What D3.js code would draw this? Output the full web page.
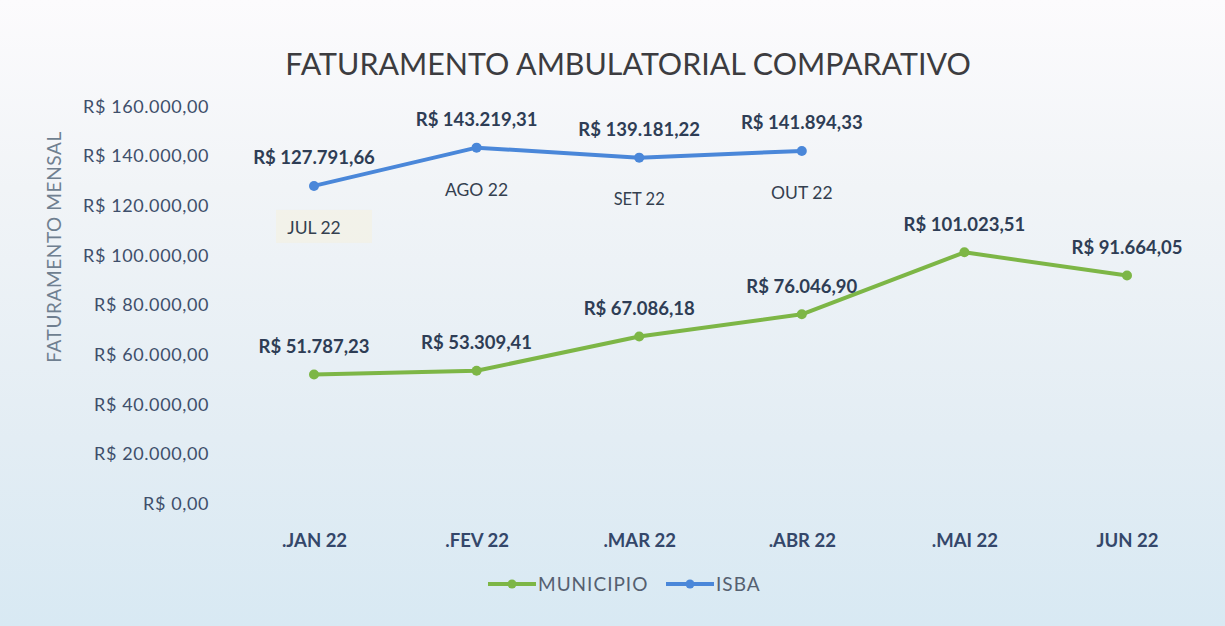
<!DOCTYPE html>
<html>
<head>
<meta charset="utf-8">
<script src="https://cdn.jsdelivr.net/npm/d3@7"></script>
<style>
  html, body { margin: 0; padding: 0; background: #ffffff; }
  svg { display: block; }
</style>
</head>
<body>
<svg id="chart" width="1225" height="626"></svg>
<script>
// ---- data ----
const categories = [".JAN 22", ".FEV 22", ".MAR 22", ".ABR 22", ".MAI 22", "JUN 22"];
const municipioValues = [51787.23, 53309.41, 67086.18, 76046.90, 101023.51, 91664.05];
const isbaMonths = ["JUL 22", "AGO 22", "SET 22", "OUT 22"];
const isbaValues = [127791.66, 143219.31, 139181.22, 141894.33];
const yTicks = [0, 20000, 40000, 60000, 80000, 100000, 120000, 140000, 160000];
const seriesNames = ["MUNICIPIO", "ISBA"];
const titleText = "FATURAMENTO AMBULATORIAL COMPARATIVO";
const yTitleText = "FATURAMENTO MENSAL";

// ---- setup ----
const W = 1225, H = 626;
const svg = d3.select("#chart");
const FONT = "Lato, 'Open Sans', sans-serif";
const colors = { MUNICIPIO: "#7db646", ISBA: "#4a87d9" };

const fmt = v => "R$ " + new Intl.NumberFormat("pt-BR", { minimumFractionDigits: 2, maximumFractionDigits: 2 }).format(v);

// background gradient
const defs = svg.append("defs");
const grad = defs.append("linearGradient").attr("id", "bg").attr("x1", 0).attr("y1", 0).attr("x2", 0).attr("y2", 1);
grad.append("stop").attr("offset", "0%").attr("stop-color", "#fcfbfd");
grad.append("stop").attr("offset", "30%").attr("stop-color", "#f1f4f7");
grad.append("stop").attr("offset", "70%").attr("stop-color", "#e3edf4");
grad.append("stop").attr("offset", "100%").attr("stop-color", "#d8e9f3");
svg.append("rect").attr("width", W).attr("height", H).attr("fill", "url(#bg)");

// scales
const x = d3.scalePoint().domain(d3.range(categories.length)).range([314, 1127]);
const y = d3.scaleLinear().domain([0, 160000]).range([503, 106]);

// title
svg.append("text")
  .attr("x", 628).attr("y", 75)
  .attr("text-anchor", "middle")
  .attr("font-family", FONT).attr("font-size", 30.4)
  .attr("fill", "#3c3c40")
  .text(titleText);

// y title
svg.append("text")
  .attr("transform", "translate(61,247) rotate(-90)")
  .attr("text-anchor", "middle")
  .attr("font-family", FONT).attr("font-size", 19)
  .attr("letter-spacing", 0.6)
  .attr("fill", "#6f7f90")
  .text(yTitleText);

// y axis
const yAxis = d3.axisLeft(y).tickValues(yTicks).tickSize(0).tickPadding(0).tickFormat(fmt);
const yg = svg.append("g").attr("transform", "translate(209,0)").call(yAxis);
yg.select(".domain").remove();
yg.selectAll("text")
  .attr("font-family", FONT).attr("font-size", 18)
  .attr("letter-spacing", 0.6)
  .attr("fill", "#3e4f6b")
  .attr("dy", "0.35em");

// x axis
const xAxis = d3.axisBottom(x).tickSize(0).tickPadding(0).tickFormat(i => categories[i]);
const xg = svg.append("g").attr("transform", "translate(0,541)").call(xAxis);
xg.select(".domain").remove();
xg.selectAll("text")
  .attr("font-family", FONT).attr("font-size", 18.5)
  .attr("font-weight", 700)
  .attr("fill", "#34476a")
  .attr("dy", "0.35em");

const line = d3.line().x((d, i) => x(i)).y(d => y(d));

// MUNICIPIO series
svg.append("path").datum(municipioValues)
  .attr("d", line).attr("fill", "none")
  .attr("stroke", colors.MUNICIPIO).attr("stroke-width", 4)
  .attr("stroke-linejoin", "round").attr("stroke-linecap", "round");
svg.selectAll(".mpt").data(municipioValues).enter().append("circle")
  .attr("cx", (d, i) => x(i)).attr("cy", d => y(d)).attr("r", 5)
  .attr("fill", colors.MUNICIPIO);
svg.selectAll(".mlab").data(municipioValues).enter().append("text")
  .attr("x", (d, i) => x(i)).attr("y", d => y(d) - 28)
  .attr("dy", "0.35em")
  .attr("text-anchor", "middle")
  .attr("font-family", FONT).attr("font-size", 18.5).attr("font-weight", 700)
  .attr("fill", "#2e3d55")
  .text(d => fmt(d));

// ISBA series
svg.append("rect")
  .attr("x", x(0) - 38).attr("y", y(isbaValues[0]) + 24)
  .attr("width", 96).attr("height", 33)
  .attr("fill", "#f4f1e4").attr("opacity", 0.7);

svg.append("path").datum(isbaValues)
  .attr("d", line).attr("fill", "none")
  .attr("stroke", colors.ISBA).attr("stroke-width", 4)
  .attr("stroke-linejoin", "round").attr("stroke-linecap", "round");
svg.selectAll(".ipt").data(isbaValues).enter().append("circle")
  .attr("cx", (d, i) => x(i)).attr("cy", d => y(d)).attr("r", 5)
  .attr("fill", colors.ISBA);
svg.selectAll(".ilab").data(isbaValues).enter().append("text")
  .attr("x", (d, i) => x(i)).attr("y", d => y(d) - 28)
  .attr("dy", "0.35em")
  .attr("text-anchor", "middle")
  .attr("font-family", FONT).attr("font-size", 18.5).attr("font-weight", 700)
  .attr("fill", "#2e3d55")
  .text(d => fmt(d));
svg.selectAll(".imon").data(isbaMonths).enter().append("text")
  .attr("x", (d, i) => x(i)).attr("y", (d, i) => y(isbaValues[i]) + 42)
  .attr("dy", "0.35em")
  .attr("text-anchor", "middle")
  .attr("font-family", FONT).attr("font-size", (d, i) => i === 2 ? 16.5 : 17.5)
  .attr("fill", "#34404f")
  .text(d => d);

// legend
const legend = svg.append("g").attr("transform", "translate(0,584)");
const legendItems = [
  { name: seriesNames[0], x0: 488 },
  { name: seriesNames[1], x0: 666 }
];
legendItems.forEach(it => {
  const g = legend.append("g");
  g.append("line").attr("x1", it.x0).attr("x2", it.x0 + 48).attr("y1", 0).attr("y2", 0)
    .attr("stroke", colors[it.name]).attr("stroke-width", 4);
  g.append("circle").attr("cx", it.x0 + 24).attr("cy", 0).attr("r", 4.5).attr("fill", colors[it.name]);
  g.append("text").attr("x", it.x0 + 50).attr("y", 0).attr("dy", "0.35em")
    .attr("font-family", FONT).attr("font-size", 19)
    .attr("letter-spacing", 1)
    .attr("fill", "#556070")
    .text(it.name);
});
</script>
</body>
</html>
